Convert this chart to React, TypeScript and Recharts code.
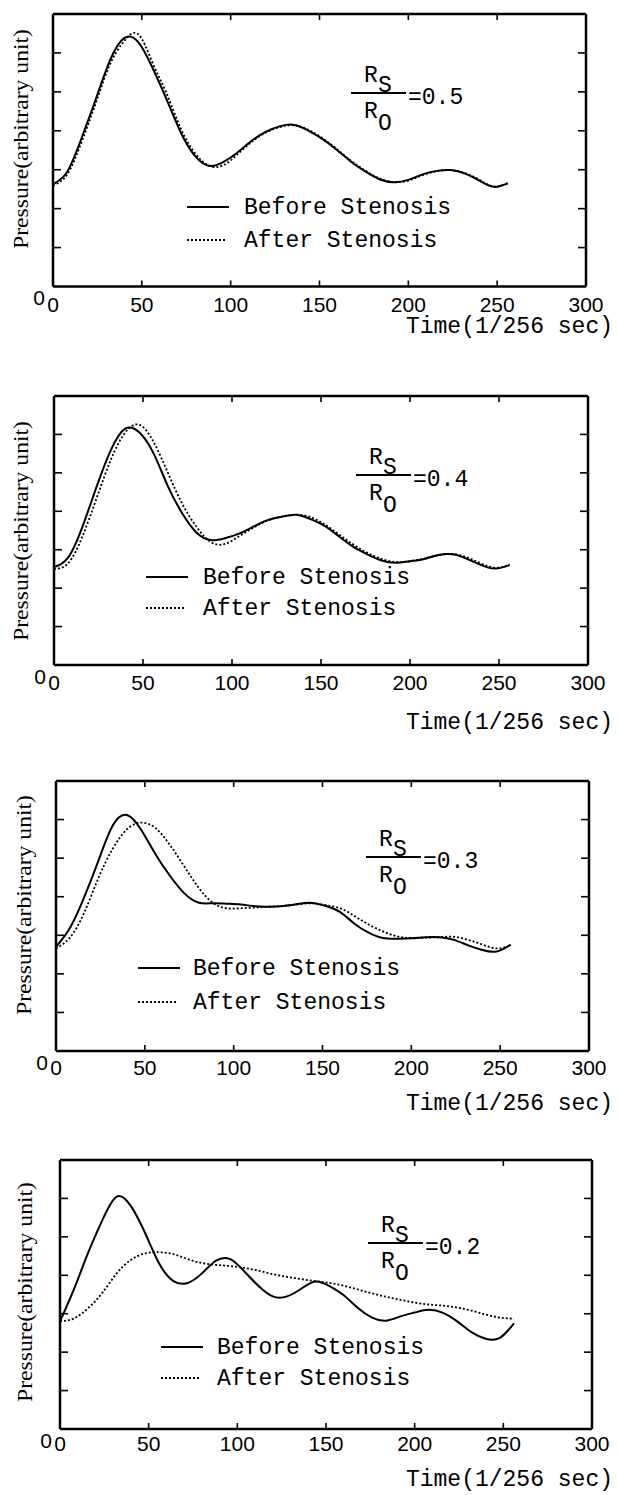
import { LineChart, Line, XAxis, YAxis, Customized } from "recharts";

const times = [
  0, 8, 16, 24, 32, 40, 48, 56, 64, 72, 80, 88, 96, 104, 112, 120, 128, 136, 144, 152, 160, 168, 176, 184, 192, 200,
  208, 216, 224, 232, 240, 248, 256,
];
const xTicks = [0, 50, 100, 150, 200, 250, 300];
const xInnerTicks = [50, 100, 150, 200, 250];
const yInnerTicks = [1, 2, 3, 4, 5, 6];

// Rs/Ro = 0.5
const p1Before = [
  2.63, 2.95, 3.8, 4.8, 5.8, 6.38, 6.28, 5.62, 4.8, 3.95, 3.35, 3.1, 3.2, 3.45, 3.75, 3.98, 4.12, 4.15, 4.0, 3.78, 3.5,
  3.2, 2.95, 2.75, 2.68, 2.74, 2.88, 2.97, 2.99, 2.9, 2.72, 2.56, 2.65,
];
const p1After = [
  2.6, 2.88, 3.7, 4.7, 5.7, 6.3, 6.48, 5.75, 4.95, 4.05, 3.42, 3.1, 3.12, 3.4, 3.72, 3.96, 4.1, 4.14, 4.02, 3.8, 3.52,
  3.22, 2.97, 2.77, 2.68, 2.72, 2.86, 2.96, 2.99, 2.91, 2.74, 2.57, 2.66,
];

// Rs/Ro = 0.4
const p2Before = [
  2.55, 2.8, 3.6, 4.65, 5.6, 6.15, 6.05, 5.5, 4.65, 3.95, 3.45, 3.25, 3.3, 3.42, 3.6, 3.77, 3.86, 3.91, 3.8, 3.62, 3.35,
  3.08, 2.88, 2.72, 2.66, 2.7, 2.76, 2.86, 2.88, 2.76, 2.6, 2.51, 2.6,
];
const p2After = [
  2.5, 2.65, 3.35, 4.35, 5.35, 6.05, 6.25, 5.8, 5.0, 4.2, 3.6, 3.2, 3.15, 3.35, 3.57, 3.76, 3.86, 3.91, 3.85, 3.66, 3.4,
  3.14, 2.92, 2.76, 2.68, 2.7, 2.77, 2.86, 2.89, 2.8, 2.64, 2.53, 2.61,
];

// Rs/Ro = 0.3
const p3Before = [
  2.7, 3.2, 4.0, 4.95, 5.85, 6.12, 5.73, 5.1, 4.55, 4.1, 3.85, 3.83, 3.82, 3.8, 3.75, 3.74, 3.76, 3.81, 3.84, 3.76, 3.6,
  3.3, 3.07, 2.93, 2.91, 2.92, 2.95, 2.95, 2.88, 2.74, 2.62, 2.58, 2.76,
];
const p3After = [
  2.66, 2.95, 3.6, 4.5, 5.25, 5.75, 5.92, 5.78, 5.35, 4.8, 4.25, 3.85, 3.7, 3.7, 3.72, 3.74, 3.76, 3.8, 3.83, 3.78, 3.7,
  3.5, 3.28, 3.1, 2.97, 2.93, 2.94, 2.95, 2.96, 2.88, 2.76, 2.66, 2.74,
];

// Rs/Ro = 0.2
const p4Before = [
  2.8, 3.65, 4.6, 5.45, 6.05, 5.8, 5.1, 4.3, 3.85, 3.8, 4.05, 4.38, 4.42, 4.1, 3.72, 3.45, 3.45, 3.65, 3.84, 3.72, 3.48,
  3.15, 2.9, 2.82, 2.93, 3.03, 3.1, 3.02, 2.8, 2.52, 2.35, 2.37, 2.75,
];
const p4After = [
  2.8, 2.88, 3.15, 3.55, 4.05, 4.4, 4.57, 4.6, 4.55, 4.42, 4.32, 4.27, 4.24, 4.19, 4.12, 4.03, 3.96, 3.9, 3.85, 3.8,
  3.73, 3.63, 3.53, 3.44, 3.36, 3.29, 3.24, 3.21, 3.16, 3.08, 2.98, 2.9, 2.87,
];

const ratios = ["0.5", "0.4", "0.3", "0.2"];
const legendLabels = ["Before Stenosis", "After Stenosis"];
const yTitle = "Pressure(arbitrary unit)";
const xTitle = "Time(1/256 sec)";

const MONO = "'Liberation Mono', 'Courier New', monospace";
const SANS = "'Liberation Sans', Arial, sans-serif";
const SERIF = "'Liberation Serif', 'Times New Roman', serif";

// page coordinates of each panel (plot box, annotations)
const layouts = [
  { L: 53, R: 586, T: 14, B: 286.5, rx: 351, ry: 93, lx: 187, ly1: 207, ly2: 240, tx: 244, yx: 20, yy: 139, timeY: 333, tickDy: 25 },
  { L: 54, R: 588, T: 396, B: 665, rx: 356, ry: 475, lx: 146, ly1: 577, ly2: 608, tx: 203, yx: 20, yy: 531, timeY: 729, tickDy: 25 },
  { L: 56, R: 589, T: 781, B: 1051, rx: 366, ry: 857, lx: 138, ly1: 968, ly2: 1002, tx: 193, yx: 23, yy: 905, timeY: 1110, tickDy: 24 },
  { L: 60, R: 592, T: 1160, B: 1429, rx: 368, ry: 1243, lx: 161, ly1: 1347, ly2: 1378, tx: 217, yx: 24, yy: 1292, timeY: 1486, tickDy: 22 },
];

type Layout = (typeof layouts)[number];

const NoTick = () => <g />;

function Overlay({ g, top, ratio }: { g: Layout; top: number; ratio: string }) {
  const rx = g.rx;
  const ry = g.ry - top;
  const yy = g.yy - top;
  return (
    <g fill="#000">
      <text
        x={g.yx}
        y={yy}
        transform={`rotate(-90 ${g.yx} ${yy})`}
        textAnchor="middle"
        dominantBaseline="central"
        fontFamily={SERIF}
        fontSize={22}
        textLength={220}
        lengthAdjust="spacingAndGlyphs"
      >
        {yTitle}
      </text>

      <g fontFamily={MONO} fontSize={23}>
        <text x={rx + 13} y={ry - 11}>R</text>
        <text x={rx + 27} y={ry - 1}>S</text>
        <line x1={rx} x2={rx + 55} y1={ry} y2={ry} stroke="#000" strokeWidth={2} />
        <text x={rx + 13} y={ry + 25}>R</text>
        <text x={rx + 27} y={ry + 37}>O</text>
        <text x={rx + 57} y={ry + 11}>={ratio}</text>
      </g>

      <g fontFamily={MONO} fontSize={23}>
        <line x1={g.lx} x2={g.lx + 42} y1={g.ly1 - top} y2={g.ly1 - top} stroke="#000" strokeWidth={2} />
        <text x={g.tx} y={g.ly1 - top + 7}>{legendLabels[0]}</text>
        <line
          x1={g.lx}
          x2={g.lx + 40}
          y1={g.ly2 - top}
          y2={g.ly2 - top}
          stroke="#000"
          strokeWidth={1.8}
          strokeDasharray="2 2"
        />
        <text x={g.tx} y={g.ly2 - top + 7}>{legendLabels[1]}</text>
        <text x={613} y={g.timeY - top} textAnchor="end">
          {xTitle}
        </text>
      </g>
    </g>
  );
}

function Panel({ idx, before, after }: { idx: number; before: number[]; after: number[] }) {
  const g = layouts[idx];
  const top = g.T - 14;
  const height = g.B - top + 80;
  const rows = times.map((t, i) => ({ t, before: before[i], after: after[i] }));
  const frame = { stroke: "#000", strokeWidth: 2.5 };
  const tickLn = { stroke: "#000", strokeWidth: 1.6 };

  return (
    <div style={{ position: "absolute", left: 0, top }}>
      <LineChart
        width={618}
        height={height}
        data={rows}
        margin={{ top: 14, right: 618 - g.R, bottom: 0, left: g.L - 40 }}
      >
        <XAxis
          xAxisId="v"
          dataKey="t"
          type="number"
          domain={[0, 300]}
          ticks={xTicks}
          interval={0}
          allowDataOverflow
          height={80}
          tickSize={0}
          tickMargin={0}
          tickLine={false}
          axisLine={frame}
          tick={(p: any) => (
            <text x={p.x} y={p.y + g.tickDy} textAnchor="middle" fontFamily={SANS} fontSize={21} fill="#000">
              {p.payload.value}
            </text>
          )}
        />
        <XAxis
          xAxisId="bt"
          dataKey="t"
          type="number"
          orientation="bottom"
          mirror
          domain={[0, 300]}
          ticks={xInnerTicks}
          interval={0}
          allowDataOverflow
          height={10}
          tickSize={6}
          tick={NoTick}
          tickLine={tickLn}
          axisLine={false}
        />
        <XAxis
          xAxisId="tt"
          dataKey="t"
          type="number"
          orientation="top"
          mirror
          domain={[0, 300]}
          ticks={xInnerTicks}
          interval={0}
          allowDataOverflow
          height={10}
          tickSize={6}
          tick={NoTick}
          tickLine={tickLn}
          axisLine={frame}
        />
        <YAxis
          yAxisId="v"
          type="number"
          domain={[0, 7]}
          ticks={[0]}
          interval={0}
          allowDataOverflow
          width={40}
          tickSize={0}
          tickMargin={0}
          tickLine={false}
          axisLine={frame}
          tick={(p: any) => (
            <text x={p.x - 14} y={p.y + 18.5} textAnchor="middle" fontFamily={SANS} fontSize={21} fill="#000">
              {p.payload.value}
            </text>
          )}
        />
        <YAxis
          yAxisId="lt"
          type="number"
          orientation="left"
          mirror
          domain={[0, 7]}
          ticks={yInnerTicks}
          interval={0}
          allowDataOverflow
          width={10}
          tickSize={8}
          tick={NoTick}
          tickLine={tickLn}
          axisLine={false}
        />
        <YAxis
          yAxisId="rt"
          type="number"
          orientation="right"
          mirror
          domain={[0, 7]}
          ticks={yInnerTicks}
          interval={0}
          allowDataOverflow
          width={10}
          tickSize={8}
          tick={NoTick}
          tickLine={tickLn}
          axisLine={frame}
        />
        <Line
          xAxisId="v"
          yAxisId="v"
          dataKey="before"
          type="natural"
          stroke="#000"
          strokeWidth={2}
          dot={false}
          activeDot={false}
          isAnimationActive={false}
        />
        <Line
          xAxisId="v"
          yAxisId="v"
          dataKey="after"
          type="natural"
          stroke="#000"
          strokeWidth={1.8}
          strokeDasharray="2 2"
          dot={false}
          activeDot={false}
          isAnimationActive={false}
        />
        <Customized component={<Overlay g={g} top={top} ratio={ratios[idx]} />} />
      </LineChart>
    </div>
  );
}

export default function App() {
  return (
    <div
      style={{
        position: "absolute",
        left: 0,
        top: 0,
        width: 618,
        height: 1495,
        overflow: "hidden",
        background: "#fff",
      }}
    >
      <Panel idx={0} before={p1Before} after={p1After} />
      <Panel idx={1} before={p2Before} after={p2After} />
      <Panel idx={2} before={p3Before} after={p3After} />
      <Panel idx={3} before={p4Before} after={p4After} />
    </div>
  );
}
